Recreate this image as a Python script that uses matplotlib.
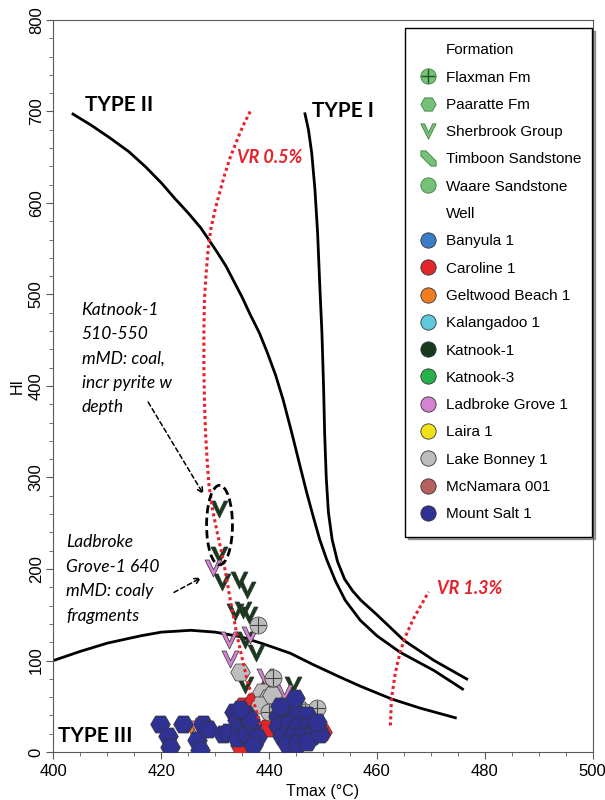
"""
HI vs Tmax kerogen type plot, Otway Basin wells.
"""

import matplotlib
matplotlib.use("Agg")
import matplotlib.pyplot as plt
from matplotlib.lines import Line2D
from matplotlib.patches import Ellipse
from matplotlib.path import Path

plt.rcParams["font.family"] = ["Liberation Sans", "DejaVu Sans"]
ANNO_FONT = ["Lato", "DejaVu Sans"]

# ---- kerogen type curves (Tmax degC, HI) ----
type1_t  = [446.6, 447.3, 447.9, 448.5, 449.0, 449.4, 449.8, 450.1, 450.3, 450.6, 451.0,
            451.7, 452.7, 454.0, 455.5, 457.0, 460.0, 465.0, 470.6, 476.9]
type1_hi = [699, 680, 655, 615, 567, 510, 458, 400, 349, 300, 262,
            232, 208, 189, 176, 166, 150, 122, 100, 79]

type2_t  = [403.4, 407.0, 410.5, 414.0, 417.0, 420.0, 422.5, 425.0, 427.3, 428.8, 430.5,
            432.0, 433.5, 435.0, 436.5, 438.2, 439.7, 441.2, 442.6, 444.2, 445.8, 447.0,
            448.2, 449.4, 450.7, 452.3, 454.1, 456.9, 460.0, 464.3, 470.6, 476.1]
type2_hi = [698, 685, 671, 656, 640, 622, 605, 589, 573, 560, 545,
            531, 514, 497, 478, 458, 436, 412, 385, 349, 311, 283,
            257, 232, 210, 187, 166, 144, 127, 109, 89, 68]

type3_t  = [400.0, 405.0, 410.0, 416.2, 420.0, 425.5, 430.0, 434.7, 439.0, 443.9, 448.0,
            453.1, 456.9, 462.7, 468.0, 474.8]
type3_hi = [100, 110, 119, 127, 131, 133, 131, 126, 118, 108, 96, 82, 72, 58, 48, 37]

# ---- vitrinite reflectance iso-lines ----
vr05_t  = [436.5, 435.2, 434.0, 432.8, 431.8, 430.9, 430.0, 429.2, 428.7, 428.3, 428.0,
           427.9, 427.9, 428.0, 428.2, 428.5, 428.8, 429.5, 430.4, 431.5, 432.8, 434.1,
           435.9, 438.4]
vr05_hi = [700, 685, 668, 650, 632, 613, 593, 572, 550, 522, 494,
           458, 421, 385, 349, 320, 294, 265, 239, 210, 166, 126,
           79, 30]

vr13_t  = [462.5, 462.7, 463.4, 464.3, 465.2, 466.8, 469.6]
vr13_hi = [29, 58, 86, 109, 125, 146, 175]

# ---- samples: (well, formation) groups ----
mount_salt_paaratte_t = [419.8, 421.3, 421.6, 424.1, 426.6, 427.8, 428.7, 427.2,
                         431.5, 432.4, 433.4, 434.0, 434.6, 434.0, 435.8, 435.8, 436.8, 437.7,
                         437.1, 436.5, 434.6,
                         441.7, 443.3, 445.1, 447.0, 441.7, 443.6, 445.4, 447.3, 448.8, 442.3,
                         444.2, 446.0, 447.9, 443.3, 445.1, 447.0, 444.8, 442.0, 449.4, 448.8]
mount_salt_paaratte_hi = [31, 17, 5, 31, 13, 31, 25, 2,
                          20, 22, 44, 35, 26, 15, 42, 20, 31, 16,
                          8, 36, 47,
                          39, 44, 42, 40, 28, 31, 28, 28, 26, 17,
                          17, 17, 17, 9, 9, 11, 59, 50, 20, 33]

caroline_paaratte_t  = [439.8, 435.2, 439.6, 434.6, 448.6, 449.9, 437.0]
caroline_paaratte_hi = [70, 50, 26, 8, 34, 22, 55]

lake_bonney_paaratte_t  = [434.6, 438.6, 439.8, 438.3, 441.1, 445.7, 440.5]
lake_bonney_paaratte_hi = [87, 66, 59, 51, 44, 46, 62]

lake_bonney_flaxman_t  = [438.0, 440.8, 439.9, 446.7, 448.8]
lake_bonney_flaxman_hi = [139, 81, 44, 44, 48]

katnook1_sherbrook_t  = [430.7, 430.7, 431.3, 434.4, 435.9, 433.6, 435.2, 436.2,
                         435.6, 437.5, 435.6, 444.5]
katnook1_sherbrook_hi = [266, 215, 186, 188, 177, 153, 155, 150, 122, 108, 73, 73]

ladbroke_sherbrook_t  = [429.5, 436.5, 432.5, 432.8, 439.3, 442.7, 426.8]
ladbroke_sherbrook_hi = [201, 128, 122, 102, 82, 64, 25]

geltwood_sherbrook_t  = [425.6]
geltwood_sherbrook_hi = [28]

formations = ["Flaxman Fm", "Paaratte Fm", "Sherbrook Group", "Timboon Sandstone", "Waare Sandstone"]
wells = ["Banyula 1", "Caroline 1", "Geltwood Beach 1", "Kalangadoo 1", "Katnook-1", "Katnook-3",
         "Ladbroke Grove 1", "Laira 1", "Lake Bonney 1", "McNamara 001", "Mount Salt 1"]

WELL_COLORS = {
    "Banyula 1":        "#3b7dc4",
    "Caroline 1":       "#e3262d",
    "Geltwood Beach 1": "#ef7d22",
    "Kalangadoo 1":     "#5ec9dd",
    "Katnook-1":        "#163b1c",
    "Katnook-3":        "#27b04b",
    "Ladbroke Grove 1": "#d383d0",
    "Laira 1":          "#f1e118",
    "Lake Bonney 1":    "#bdbdbd",
    "McNamara 001":     "#b5625e",
    "Mount Salt 1":     "#2f3293",
}
FM_GREEN = "#76c178"
FM_EDGE = "#3f7f42"

# custom marker shapes
V_MARK = Path([(-1.0, 1.0), (-0.5, 1.0), (0.0, -0.15), (0.55, 1.0), (1.0, 1.0),
               (0.0, -1.0), (-1.0, 1.0)],
              [Path.MOVETO] + [Path.LINETO] * 5 + [Path.CLOSEPOLY])
TB_MARK = Path([(-0.9, 0.9), (-0.3, 0.9), (0.9, -0.3), (0.9, -0.9), (0.3, -0.9),
                (-0.9, 0.3), (-0.9, 0.9)],
               [Path.MOVETO] + [Path.LINETO] * 5 + [Path.CLOSEPOLY])
FM_MARKERS = {"Flaxman Fm": "o", "Paaratte Fm": "H", "Sherbrook Group": V_MARK,
              "Timboon Sandstone": TB_MARK, "Waare Sandstone": "o"}
FM_SIZES = {"Flaxman Fm": 150, "Paaratte Fm": 200, "Sherbrook Group": 150,
            "Timboon Sandstone": 150, "Waare Sandstone": 150}

series = [
    ("Caroline 1",       "Paaratte Fm",     caroline_paaratte_t,    caroline_paaratte_hi),
    ("Geltwood Beach 1", "Sherbrook Group", geltwood_sherbrook_t,   geltwood_sherbrook_hi),
    ("Katnook-1",        "Sherbrook Group", katnook1_sherbrook_t,   katnook1_sherbrook_hi),
    ("Ladbroke Grove 1", "Sherbrook Group", ladbroke_sherbrook_t,   ladbroke_sherbrook_hi),
    ("Lake Bonney 1",    "Paaratte Fm",     lake_bonney_paaratte_t, lake_bonney_paaratte_hi),
    ("Lake Bonney 1",    "Flaxman Fm",      lake_bonney_flaxman_t,  lake_bonney_flaxman_hi),
    ("Mount Salt 1",     "Paaratte Fm",     mount_salt_paaratte_t,  mount_salt_paaratte_hi),
]

fig = plt.figure(figsize=(6.05, 8.0), dpi=100)
ax = fig.add_axes([0.0884, 0.06, 0.891, 0.915])

# curves
for t, hi in [(type1_t, type1_hi), (type2_t, type2_hi), (type3_t, type3_hi)]:
    ax.plot(t, hi, color="black", lw=2.0, solid_capstyle="butt", solid_joinstyle="round", zorder=2)
for t, hi in [(vr05_t, vr05_hi), (vr13_t, vr13_hi)]:
    ax.plot(t, hi, color="#e8202a", lw=2.2, ls=(0, (1, 1)), zorder=4)

# samples
for well, fm, t, hi in series:
    ax.scatter(t, hi, s=FM_SIZES[fm], marker=FM_MARKERS[fm], c=WELL_COLORS[well],
               edgecolors="#333333", linewidths=0.5, zorder=3)
    if fm == "Flaxman Fm":
        ax.scatter(t, hi, s=120, marker="+", c="#444444", linewidths=0.8, zorder=3)

# text labels
ax.text(405.8, 707, "TYPE II", family=ANNO_FONT, fontweight="bold", fontsize=15, va="center")
ax.text(447.9, 701, "TYPE I", family=ANNO_FONT, fontweight="bold", fontsize=15, va="center")
ax.text(400.8, 18, "TYPE III", family=ANNO_FONT, fontweight="bold", fontsize=15, va="center")
ax.text(434.0, 650, "VR 0.5%", family=ANNO_FONT, fontweight="bold", style="italic",
        fontsize=13, color="#e8202a", va="center")
ax.text(471.2, 179, "VR 1.3%", family=ANNO_FONT, fontweight="bold", style="italic",
        fontsize=13, color="#e8202a", va="center")

ax.text(405.2, 430, "Katnook-1\n510-550\nmMD: coal,\nincr pyrite w\ndepth",
        family=ANNO_FONT, style="italic", fontsize=12.5, va="center", linespacing=1.65)
ax.text(402.3, 189, "Ladbroke\nGrove-1 640\nmMD: coaly\nfragments",
        family=ANNO_FONT, style="italic", fontsize=12.5, va="center", linespacing=1.65)

arrow = dict(arrowstyle="->", linestyle=(0, (3, 2)), lw=1.1, color="black")
ax.annotate("", xy=(428.1, 279), xytext=(417.3, 385), arrowprops=arrow)
ax.annotate("", xy=(427.9, 192), xytext=(421.9, 173), arrowprops=arrow)

ax.add_patch(Ellipse((430.8, 248), 4.8, 87, fill=False, ec="black", lw=2.0,
                     ls=(0, (3, 1.5)), zorder=5))

# axes
ax.set_xlim(400, 500)
ax.set_ylim(0, 800)
ax.set_xticks(range(400, 501, 20))
ax.set_xticks(range(400, 501, 5), minor=True)
ax.set_yticks(range(0, 801, 100))
ax.set_yticks(range(0, 801, 20), minor=True)
ax.tick_params(which="major", direction="out", length=5, labelsize=12, color="#595959")
ax.tick_params(which="minor", direction="out", length=3, color="#595959")
ax.tick_params(axis="y", pad=2)
plt.setp(ax.get_yticklabels(), rotation=90, va="center")
for sp in ax.spines.values():
    sp.set_color("#595959")
ax.set_xlabel("Tmax (°C)", fontsize=11.5, labelpad=4)
ax.set_ylabel("HI", fontsize=11.5, labelpad=3)

# legend
def fm_handle(fm):
    mk = FM_MARKERS[fm]
    h = Line2D([], [], ls="none", marker=mk, ms=11, mfc=FM_GREEN, mec=FM_EDGE, mew=0.6)
    if fm == "Flaxman Fm":
        return (h, Line2D([], [], ls="none", marker="+", ms=10, mec="#1f4f22", mew=1.0))
    return h

blank = Line2D([], [], ls="none")
handles = [blank] + [fm_handle(f) for f in formations] + [blank]
handles += [Line2D([], [], ls="none", marker="o", ms=11, mfc=WELL_COLORS[w], mec="#333333",
                   mew=0.6) for w in wells]
labels = ["Formation"] + formations + ["Well"] + wells

leg = ax.legend(handles, labels, loc="upper left", bbox_to_anchor=(0.652, 0.294, 0.347, 0.695),
                mode="expand", fontsize=11, frameon=True, fancybox=False, shadow=True,
                edgecolor="black", framealpha=1, handlelength=1.0, handletextpad=0.7,
                labelspacing=0.87, borderpad=1.0, borderaxespad=0)
leg.get_frame().set_linewidth(1.0)

fig.savefig("out.png", dpi=100)
